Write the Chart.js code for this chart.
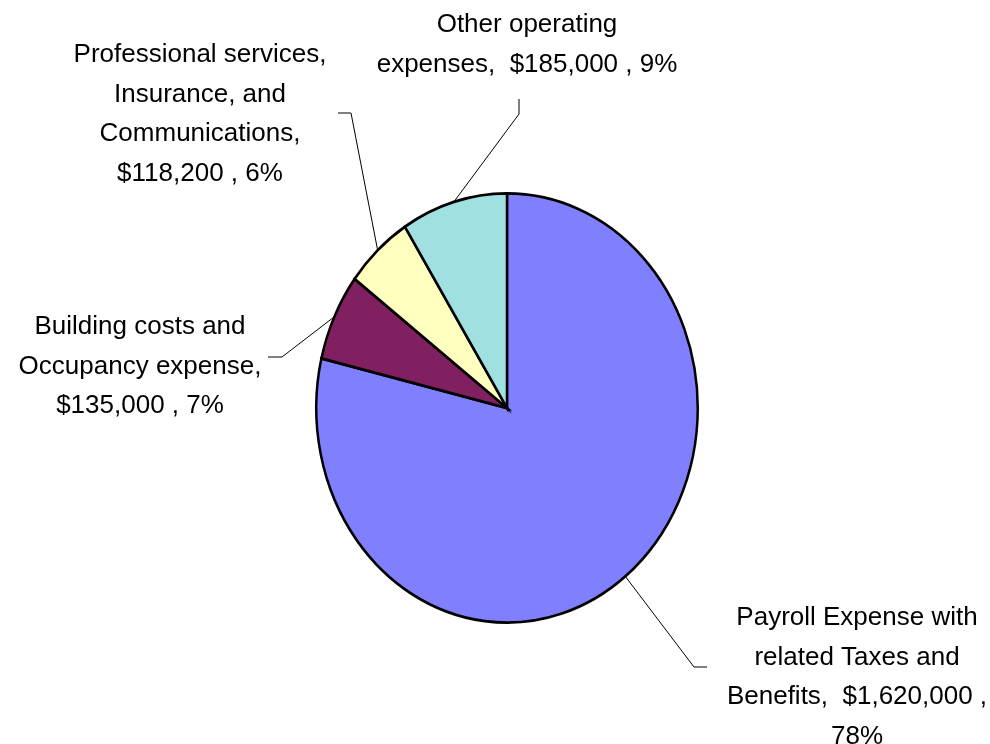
<html>
<head>
  <meta charset="utf-8">
  <title>Expense Breakdown</title>
  <script src="https://cdn.jsdelivr.net/npm/chart.js@4.4.1/dist/chart.umd.min.js"></script>
  <style>
    body { margin: 0; background: #ffffff; }
    #wrap { width: 990px; height: 744px; position: relative; }
  </style>
</head>
<body>

<div id="wrap">
  <canvas id="pieChart"></canvas>
</div>

<script>

// data
const categories = [
  'Payroll Expense with related Taxes and Benefits',
  'Building costs and Occupancy expense',
  'Professional services, Insurance, and Communications',
  'Other operating expenses'
];
const amounts = [1620000, 135000, 118200, 185000];
const percents = [78, 7, 6, 9];
const sliceColors = ['#8080FF', '#802060', '#FFFFC0', '#A0E0E0'];

// label text as wrapped in the reference
const labelLines = [
  ['Payroll Expense with', 'related Taxes and', 'Benefits,  $1,620,000 ,', '78%'],
  ['Building costs and', 'Occupancy expense,', '$135,000 , 7%'],
  ['Professional services,', 'Insurance, and', 'Communications,', '$118,200 , 6%'],
  ['Other operating', 'expenses,  $185,000 , 9%']
];

// label placement: text centre x, first baseline y, leader elbow points
const labelLayout = [
  { x: 857, y: 625, leader: [[694, 667], [707, 667]] },
  { x: 140, y: 334, leader: [[282, 357], [268, 357]] },
  { x: 200, y: 62,  leader: [[351, 113], [338, 113]] },
  { x: 527, y: 32,  leader: [[519, 114], [519, 99]] }
];

const SY = 1.125;   // the pie in the picture is a bit taller than wide
const LINE_H = 39.5;

const ellipsePlugin = {
  id: 'ellipse',
  beforeDatasetsDraw(chart) {
    const arc = chart.getDatasetMeta(0).data[0];
    const ctx = chart.ctx;
    ctx.save();
    ctx.translate(arc.x, arc.y);
    ctx.scale(1, SY);
    ctx.translate(-arc.x, -arc.y);
  },
  afterDatasetsDraw(chart) {
    chart.ctx.restore();
  }
};

const labelPlugin = {
  id: 'outLabels',
  afterDraw(chart) {
    const ctx = chart.ctx;
    const arcs = chart.getDatasetMeta(0).data;
    ctx.save();
    arcs.forEach((arc, i) => {
      const mid = (arc.startAngle + arc.endAngle) / 2;
      const sx = arc.x + arc.outerRadius * Math.cos(mid);
      const sy = arc.y + arc.outerRadius * Math.sin(mid) * SY;
      const lay = labelLayout[i];

      ctx.beginPath();
      ctx.moveTo(sx, sy);
      for (const p of lay.leader) ctx.lineTo(p[0], p[1]);
      ctx.strokeStyle = '#000000';
      ctx.lineWidth = 1;
      ctx.stroke();

      ctx.fillStyle = '#000000';
      ctx.font = '26px "Liberation Sans", Arial, sans-serif';
      ctx.textAlign = 'center';
      ctx.textBaseline = 'alphabetic';
      labelLines[i].forEach((line, j) => {
        ctx.fillText(line, lay.x, lay.y + j * LINE_H);
      });
    });
    ctx.restore();
  }
};

const data = {
  labels: categories,
  datasets: [{
    data: amounts,
    backgroundColor: sliceColors,
    borderColor: '#000000',
    borderWidth: 2.5,
    borderJoinStyle: 'miter'
  }]
};

const config = {
  type: 'pie',
  data,
  options: {
    responsive: true,
    maintainAspectRatio: false,
    animation: false,
    layout: { padding: { left: 315, right: 291, top: 216, bottom: 144 } },
    plugins: {
      legend: { display: false },
      tooltip: { enabled: false }
    }
  },
  plugins: [ellipsePlugin, labelPlugin]
};

var pieChart = new Chart(document.getElementById('pieChart'), config);

</script>

</body>
</html>
